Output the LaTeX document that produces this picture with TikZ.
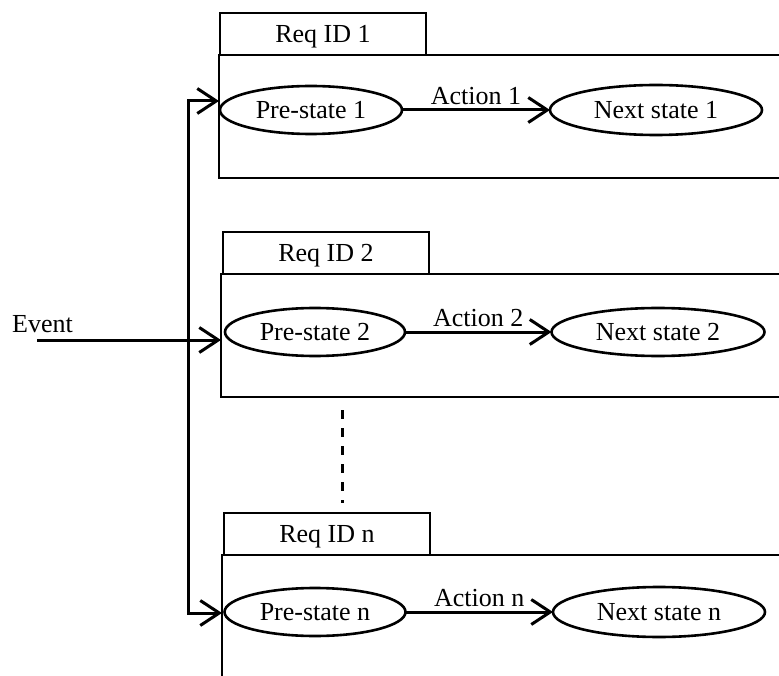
\documentclass[tikz,border=0pt]{standalone}
\usepackage{fontspec}
\setmainfont{Liberation Serif}
\usetikzlibrary{arrows.meta,shapes.geometric}
\begin{document}
\begin{tikzpicture}[x=1pt,y=-1pt,
  every node/.style={font=\fontsize{26}{31}\selectfont},
  frame/.style={draw, line width=2.6pt, rectangle, inner sep=0pt, outer sep=0pt, anchor=north west},
  tabbox/.style={draw, line width=2.6pt, rectangle, minimum width=206pt, minimum height=42pt,
                 inner sep=0pt, outer sep=0pt, text depth=0pt, anchor=north west},
  state/.style={draw, ellipse, line width=2.6pt, inner sep=0pt, outer sep=0pt},
  flow/.style={line width=3pt, line join=miter,
               -{Straight Barb[length=19pt,width=25pt,line width=3pt]}},
  link/.style={line width=3pt},
  actlbl/.style={anchor=south, inner sep=4pt},
]
\useasboundingbox (0,0) rectangle (779,676);
\clip (0,0) rectangle (779,676);
\fill[white] (0,0) rectangle (779,676);

% first request
\node[tabbox] (tab1) at (220,13) {Req ID 1};
\node[frame, minimum width=600pt, minimum height=123pt] (box1) at (219,55) {};
\node[state, minimum width=182pt, minimum height=48pt] (pre1) at (311,110) {Pre-state 1};
\node[state, minimum width=212pt, minimum height=50pt] (next1) at (656,110) {Next state 1};
\draw[flow] (pre1) -- (next1) node[midway, actlbl] {Action 1};

% second request
\node[tabbox] (tab2) at (223,232) {Req ID 2};
\node[frame, minimum width=600pt, minimum height=123pt] (box2) at (221,274) {};
\node[state, minimum width=180pt, minimum height=48pt] (pre2) at (315,332) {Pre-state 2};
\node[state, minimum width=213pt, minimum height=48pt] (next2) at (658,332) {Next state 2};
\draw[flow] (pre2) -- (next2) node[midway, actlbl] {Action 2};

% n-th request
\node[tabbox] (tabn) at (224,513) {Req ID n};
\node[frame, minimum width=600pt, minimum height=160pt] (boxn) at (222,555) {};
\node[state, minimum width=181pt, minimum height=48pt] (pren) at (315,612) {Pre-state n};
\node[state, minimum width=212pt, minimum height=50pt] (nextn) at (659,612) {Next state n};
\draw[flow] (pren) -- (nextn) node[midway, actlbl] {Action n};

% elided requests
\coordinate (dtop) at (342,410);
\coordinate (dbot) at (342,503);
\draw[link, dash pattern=on 9pt off 9pt] (dtop) -- (dbot);

% event fan-out
\coordinate (t1) at (188,101);
\coordinate (tn) at (188,613);
\draw[flow] (tn) -- (t1) -- (box1.west |- t1);
\draw[flow] (t1) -- (tn) -- (boxn.west |- tn);
\node[anchor=base west, inner sep=0pt] (evlbl) at (12,332) {Event};
\coordinate (ev) at (37,340);
\draw[flow] (ev) -- (box2.west |- ev);
\end{tikzpicture}
\end{document}
